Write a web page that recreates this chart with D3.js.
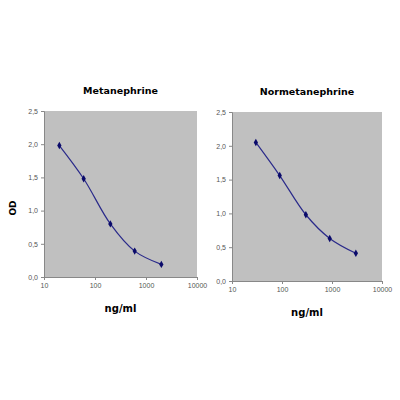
<!DOCTYPE html><html><head><meta charset="utf-8"><script src="https://cdn.jsdelivr.net/npm/d3@7"></script>
<style>body{margin:0;background:#fff}</style></head><body><svg id="c" width="400" height="400"></svg><script>
const xTicks=[10,100,1000,10000];
const yTicks=[0,0.5,1.0,1.5,2.0,2.5];
const metaX=[20,60,200,600,2000];
const metaY=[1.98,1.48,0.80,0.39,0.19];
const normX=[30,90,300,900,3000];
const normY=[2.05,1.56,0.98,0.63,0.41];
const svg=d3.select("#c");
const fmt=d=>d.toFixed(1).replace(".",",");
function panel(title,xs,ys,x0,x1,y0,y1){
  const x=d3.scaleLog().domain([10,10000]).range([x0,x1]);
  const y=d3.scaleLinear().domain([0,2.5]).range([y1,y0]);
  const g=svg.append("g");
  g.append("rect").attr("x",x0).attr("y",y0).attr("width",x1-x0).attr("height",y1-y0).attr("fill","#c0c0c0");
  const ax=g.append("g").attr("transform",`translate(0,${y1})`).call(d3.axisBottom(x).tickValues(xTicks).tickFormat(d3.format("d")).tickSize(3));
  const ay=g.append("g").attr("transform",`translate(${x0},0)`).call(d3.axisLeft(y).tickValues(yTicks).tickFormat(fmt).tickSize(3));
  [ax,ay].forEach(a=>{a.selectAll("path,line").attr("stroke","#888");a.selectAll("text").attr("fill","#555").style("font","7px Arial, 'Liberation Sans'");});
  const pts=xs.map((v,i)=>[x(v),y(ys[i])]);
  g.append("path").attr("d",d3.line().curve(d3.curveCatmullRom)(pts)).attr("fill","none").attr("stroke","#2a2a8a").attr("stroke-width",1.2);
  g.selectAll(".p").data(pts).enter().append("path").attr("transform",d=>`translate(${d[0]},${d[1]})`).attr("d",d3.symbol(d3.symbolDiamond,16)).attr("fill","#0a0a6a");
  g.append("text").attr("x",(x0+x1)/2).attr("y",y0-17).attr("text-anchor","middle").style("font","bold 9.5px 'DejaVu Sans'").text(title);
  g.append("text").attr("x",(x0+x1)/2).attr("y",y1+35).attr("text-anchor","middle").style("font","bold 10px 'DejaVu Sans'").text("ng/ml");
}
panel("Metanephrine",metaX,metaY,44,197,111,277);
panel("Normetanephrine",normX,normY,232,382,112,281);
svg.append("text").attr("transform","translate(16,208) rotate(-90)").attr("text-anchor","middle").style("font","bold 9px 'DejaVu Sans'").text("OD");
</script></body></html>
